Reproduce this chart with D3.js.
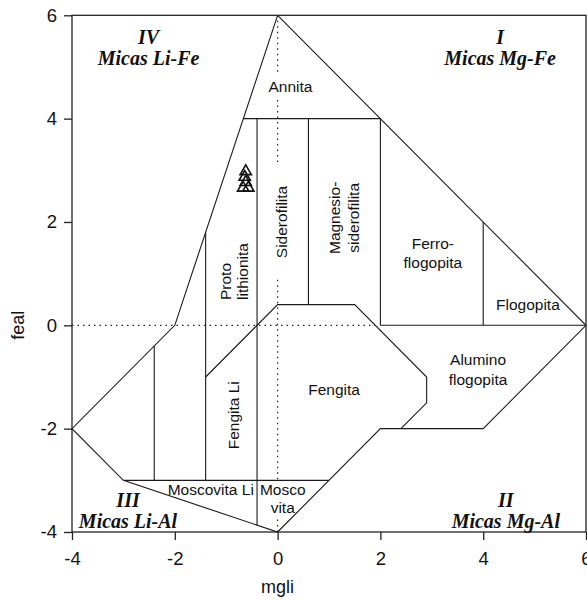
<!DOCTYPE html>
<html>
<head>
<meta charset="utf-8">
<script src="https://cdn.jsdelivr.net/npm/d3@7"></script>
<style>
body{margin:0;background:#fff;}
text{font-family:Arial,"Liberation Sans",sans-serif;fill:#111;}
</style>
</head>
<body>
<svg id="svg" width="587" height="601"></svg>
<script>
// ticks
var xTicks=[-4,-2,0,2,4,6];
var yTicks=[-4,-2,0,2,4,6];

// outer limit of the mica fields (mgli, feal)
var outline=[[0,6],[-2,0],[-4,-2],[-3,-3],[0,-4],[2,-2],[4,-2],[6,0],[0,6]];

// inner field boundaries
var dividers=[
    [[-0.667,4],[2,4]],
    [[-0.4,4],[-0.4,-3.867]],
    [[0.6,4],[0.6,0.4]],
    [[2,4],[2,0]],
    [[4,2],[4,0]],
    [[2,0],[6,0]],
    [[-1.4,-1],[0,0.4],[1.5,0.4],[2.9,-1],[2.9,-1.5],[2.4,-2]],
    [[-1.4,1.8],[-1.4,-3]],
    [[-2.4,-0.4],[-2.4,-3]],
    [[-3,-3],[1,-3]]
];

// dotted zero lines
var guides=[
    [[0,6],[0,4.9]],
    [[0,4.36],[0,3.14]],
    [[0,0.88],[0,-3.0]],
    [[0,-3.76],[0,-4]],
    [[-4,0],[1.9,0]]
];

// analysed micas
var sampleMgli=[-0.62,-0.64,-0.62,-0.67,-0.57];
var sampleFeal=[2.98,2.87,2.77,2.66,2.66];

// field names
var fieldNames=[
    {t:"Annita",x:0.25,y:4.52},
    {t:"Fengita",x:1.10,y:-1.35},
    {t:"Alumino",x:3.90,y:-0.77},
    {t:"flogopita",x:3.90,y:-1.155},
    {t:"Ferro-",x:3.02,y:1.48},
    {t:"flogopita",x:3.02,y:1.11},
    {t:"Flogopita",x:4.87,y:0.30},
    {t:"Moscovita Li",x:-1.30,y:-3.28},
    {t:"Mosco",x:0.10,y:-3.28},
    {t:"vita",x:0.10,y:-3.64}
];
var verticalNames=[
    {t:"Siderofilita",x:0.07,y:2.0,a:"middle"},
    {t:"Magnesio-",x:1.107,y:2.08,a:"middle"},
    {t:"siderofilita",x:1.477,y:2.08,a:"middle"},
    {t:"Proto",x:-1.02,y:0.49,a:"start"},
    {t:"lithionita",x:-0.683,y:0.49,a:"start"},
    {t:"Fengita Li",x:-0.858,y:-1.74,a:"middle"}
];
var groupNames=[
    {t:"IV",x:-2.51,y:5.44},{t:"Micas Li-Fe",x:-2.51,y:5.04},
    {t:"I",x:4.33,y:5.44},{t:"Micas Mg-Fe",x:4.33,y:5.04},
    {t:"III",x:-2.91,y:-3.51},{t:"Micas Li-Al",x:-2.91,y:-3.92},
    {t:"II",x:4.44,y:-3.51},{t:"Micas Mg-Al",x:4.44,y:-3.92}
];

var x=d3.scaleLinear().domain([-4,6]).range([72,586]);
var y=d3.scaleLinear().domain([-4,6]).range([532,15.3]);
var line=d3.line().x(d=>x(d[0])).y(d=>y(d[1]));

var svg=d3.select("#svg");

//dotted guides
svg.append("g").selectAll("path")
    .data(guides).enter().append("path")
        .attr("d",line)
        .attr("fill","none")
        .attr("stroke","#222")
        .attr("stroke-width",1.2)
        .attr("stroke-dasharray","1.5,4");

//fields
svg.append("path")
        .attr("d",line(outline))
        .attr("fill","none")
        .attr("stroke","#1a1a1a")
        .attr("stroke-width",1.1);

svg.append("g").selectAll("path")
    .data(dividers).enter().append("path")
        .attr("d",line)
        .attr("fill","none")
        .attr("stroke","#1a1a1a")
        .attr("stroke-width",1.1);

//frame
svg.append("rect")
        .attr("x",x(-4)).attr("y",y(6))
        .attr("width",x(6)-x(-4)).attr("height",y(-4)-y(6))
        .attr("fill","none")
        .attr("stroke","#222")
        .attr("stroke-width",1.3);

//axes
var xAxis=svg.append("g")
        .attr("transform","translate(0,"+y(-4)+")")
    .call(d3.axisBottom(x).tickValues(xTicks).tickSize(8).tickPadding(12).tickFormat(d=>String(d)));
var yAxis=svg.append("g")
        .attr("transform","translate("+x(-4)+",0)")
    .call(d3.axisLeft(y).tickValues(yTicks).tickSize(8).tickPadding(7).tickFormat(d=>String(d)));
[xAxis,yAxis].forEach(a=>{
    a.select(".domain").remove();
    a.selectAll("line").attr("stroke","#222").attr("stroke-width",1.3);
    a.selectAll("text").style("font-size","18.5px").style("font-family","Arial, 'Liberation Sans', sans-serif").attr("fill","#111");
});

svg.append("text")
        .attr("x",x(0)).attr("y",593)
        .attr("text-anchor","middle")
        .style("font-size","18px")
        .text("mgli");
svg.append("text")
        .attr("transform","translate(18,"+y(0)+") rotate(-90)")
        .attr("text-anchor","middle")
        .attr("dy","0.35em")
        .style("font-size","18px")
        .text("feal");

//labels
svg.append("g").selectAll("text")
    .data(fieldNames).enter().append("text")
        .attr("x",d=>x(d.x)).attr("y",d=>y(d.y))
        .attr("text-anchor","middle")
        .style("font-size","15.5px")
        .text(d=>d.t);

svg.append("g").selectAll("text")
    .data(verticalNames).enter().append("text")
        .attr("transform",d=>"translate("+x(d.x)+","+y(d.y)+") rotate(-90)")
        .attr("text-anchor",d=>d.a)
        .attr("dy","0.35em")
        .style("font-size","15.5px")
        .text(d=>d.t);

svg.append("g").selectAll("text")
    .data(groupNames).enter().append("text")
        .attr("x",d=>x(d.x)).attr("y",d=>y(d.y))
        .attr("text-anchor","middle")
        .style("font-family","'Liberation Serif','Times New Roman',serif")
        .style("font-weight","bold")
        .style("font-style","italic")
        .style("font-size","20px")
        .text(d=>d.t);

//samples
svg.append("g").selectAll("path")
    .data(sampleMgli).enter().append("path")
        .attr("transform",(d,i)=>"translate("+x(d)+","+y(sampleFeal[i])+")")
        .attr("d",d3.symbol().type(d3.symbolTriangle).size(55))
        .attr("fill","none")
        .attr("stroke","#111")
        .attr("stroke-width",1.6);
</script>
</body>
</html>
